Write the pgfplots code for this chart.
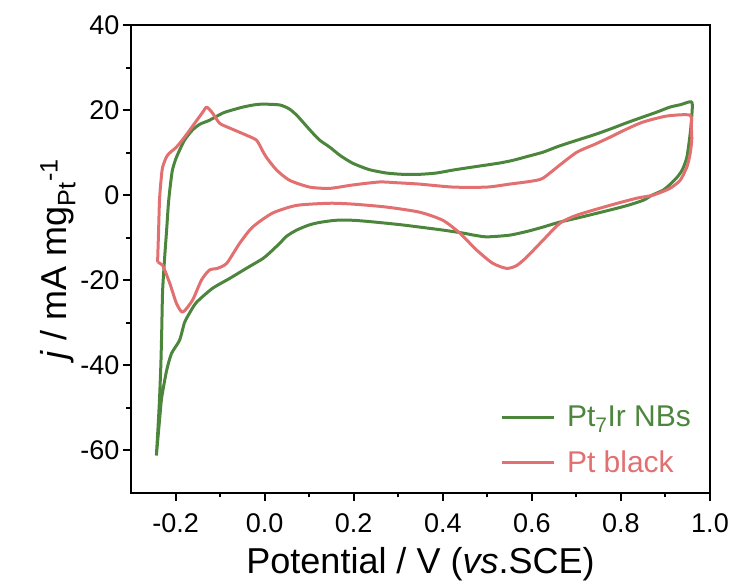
\documentclass[border=0pt]{standalone}
\usepackage{pgfplots}
\pgfplotsset{compat=1.18}
\usepackage{fontspec}
\setmainfont{Liberation Sans}
\definecolor{cgreen}{RGB}{76,134,60}
\definecolor{cred}{RGB}{226,112,112}
\begin{document}
\begin{tikzpicture}
\begin{axis}[
  name=ax,
  scale only axis,
  width=579pt, height=468pt,
  xmin=-0.3, xmax=1.0, ymin=-70, ymax=40,
  xtick={-0.2,0,0.2,0.4,0.6,0.8,1.0},
  ytick={-60,-40,-20,0,20,40},
  minor tick num=1,
  tick pos=left,
  tick align=outside,
  major tick length=8pt,
  minor tick length=4.5pt,
  every tick/.style={black, line width=2pt},
  axis line style={line width=2pt},
  /pgf/number format/assume math mode=true,
  xticklabel style={/pgf/number format/fixed, /pgf/number format/fixed zerofill, /pgf/number format/precision=1, font=\fontsize{27}{30}\selectfont, yshift=-9pt},
  yticklabel style={font=\fontsize{27}{30}\selectfont},
  xlabel={Potential / V (\textit{vs}.SCE)},
  ylabel={\textit{j} / mA mg\textsubscript{Pt}\textsuperscript{-1}},
  label style={font=\fontsize{36}{40}\selectfont},
  xlabel style={yshift=-8pt},
  ylabel style={yshift=-2pt},
  legend style={draw=none, fill=none, at={(0.637,0.035)}, anchor=south west, font=\fontsize{30}{34}\selectfont, row sep=19pt, column sep=10pt, inner sep=0pt},
  legend cell align=left,
  legend image code/.code={\draw[#1, line width=3pt] (0pt,0pt) -- (52pt,0pt);},
]
\addplot[cgreen, line width=3pt, line join=round, smooth, tension=0.4] coordinates {
(-0.243,-61.2) (-0.239,-54) (-0.236,-48) (-0.233,-40) (-0.231,-31.8) (-0.229,-22.4) (-0.224,-14) (-0.220,-8.2) (-0.216,-2) (-0.212,2) (-0.207,5.9) (-0.198,8.9) (-0.180,12.9) (-0.162,15.3) (-0.145,16.7) (-0.124,17.6) (-0.094,19.3) (-0.070,20.1) (-0.049,20.7) (-0.025,21.2) (-0.004,21.4) (0.034,21.2) (0.055,20.3) (0.072,18.8) (0.090,16.7) (0.108,14.6) (0.124,12.9) (0.146,11.3) (0.170,9.3) (0.198,7.5) (0.235,6.0) (0.274,5.2) (0.310,4.9) (0.348,4.9) (0.385,5.2) (0.423,5.9) (0.460,6.5) (0.499,7.1) (0.530,7.6) (0.558,8.2) (0.590,9.1) (0.625,10.1) (0.660,11.5) (0.701,12.9) (0.740,14.2) (0.775,15.5) (0.810,16.9) (0.850,18.4) (0.880,19.5) (0.910,20.7) (0.935,21.3) (0.959,21.9)
(0.959,18.4) (0.955,14) (0.948,8.9) (0.938,6) (0.926,4.2) (0.910,2.5) (0.895,1.2) (0.870,0) (0.850,-1.2) (0.815,-2.4) (0.775,-3.5) (0.740,-4.4) (0.701,-5.4) (0.660,-6.4) (0.625,-7.5) (0.590,-8.5) (0.550,-9.4) (0.499,-9.8) (0.470,-9.4) (0.445,-8.9) (0.400,-8.2) (0.348,-7.5) (0.310,-7.0) (0.274,-6.6) (0.235,-6.2) (0.198,-5.9) (0.160,-5.9) (0.124,-6.4) (0.100,-7.0) (0.072,-8.2) (0.050,-9.6) (0.034,-11.3) (0.015,-13.2) (-0.004,-14.9) (-0.041,-17.2) (-0.079,-19.6) (-0.117,-21.9) (-0.153,-25.2) (-0.169,-27.8) (-0.180,-30) (-0.191,-34.1) (-0.209,-37.2) (-0.220,-41.2) (-0.231,-47.5) (-0.234,-50.6) (-0.243,-61.2)
};
\addlegendentry{\textcolor{cgreen}{Pt\textsubscript{7}Ir NBs}}
\addplot[cred, line width=3pt, line join=round, smooth, tension=0.4] coordinates {
(-0.240,-15.8) (-0.240,-14.8) (-0.238,-8.2) (-0.236,-1.2) (-0.233,3) (-0.229,6.6) (-0.218,9.4) (-0.198,11.3) (-0.180,13.6) (-0.157,16.9) (-0.139,19.5) (-0.130,20.7) (-0.117,19.3) (-0.101,16.9) (-0.079,15.8) (-0.041,14.1) (-0.018,12.9) (-0.005,10.5) (0.004,8.9) (0.027,5.9) (0.056,3.5) (0.101,1.9) (0.146,1.6) (0.198,2.4) (0.258,3.1) (0.300,2.9) (0.348,2.6) (0.423,1.9) (0.499,1.9) (0.550,2.6) (0.600,3.3) (0.625,4.0) (0.663,7.1) (0.701,10.1) (0.740,11.9) (0.775,13.6) (0.810,15.4) (0.850,17.2) (0.903,18.6) (0.955,18.8)
(0.958,16) (0.959,12.9) (0.955,9.5) (0.948,6.6) (0.933,3.5) (0.910,1.6) (0.872,0) (0.836,-0.7) (0.775,-2.4) (0.701,-4.7) (0.663,-6.6) (0.625,-10.6) (0.588,-14.6) (0.565,-16.6) (0.543,-17.2) (0.512,-16.0) (0.476,-12.9) (0.438,-8.9) (0.400,-5.9) (0.348,-4.0) (0.274,-2.8) (0.198,-2.1) (0.146,-1.9) (0.072,-2.4) (0.018,-4.2) (-0.027,-7.5) (-0.056,-11.3) (-0.085,-16.0) (-0.106,-17.2) (-0.124,-17.6) (-0.142,-20.0) (-0.162,-24.7) (-0.184,-27.5) (-0.198,-25.4) (-0.213,-20.7) (-0.229,-16.5) (-0.240,-15.8)
};
\addlegendentry{\textcolor{cred}{Pt black}}
\draw[line width=2pt] (rel axis cs:0,1) -- (rel axis cs:1,1) -- (rel axis cs:1,0);
\end{axis}
\pgfresetboundingbox
\path ([shift={(-131pt,-95pt)}]ax.south west) rectangle ([shift={(27pt,25pt)}]ax.north east);
\end{tikzpicture}
\end{document}
